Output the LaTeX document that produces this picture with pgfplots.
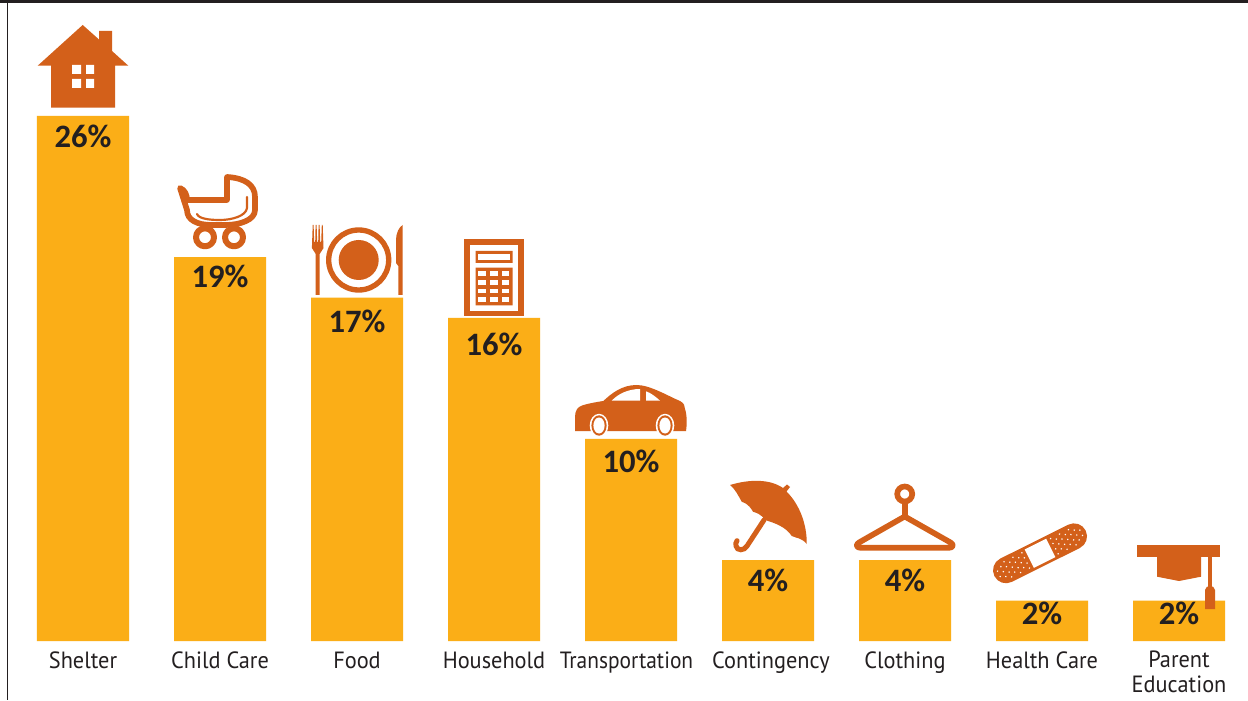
\documentclass[border=0pt]{standalone}
\usepackage{fontspec}
\setmainfont{Carlito}
\newfontfamily\catfont[FakeStretch=0.95]{PT Sans}
\usepackage{pgfplots}
\usepackage{pgfplotstable}
\pgfplotsset{compat=1.18}
\definecolor{barfill}{HTML}{FBAE17}
\definecolor{icon}{HTML}{D3601A}
\definecolor{ink}{HTML}{231F20}

% pos: category position, share: percent, drop: distance of the value's baseline below the bar top
\pgfplotstableread{
pos share drop
0 26 32.2
1 19 30.8
2 17 35.4
3 16 38.2
4 10 34.0
5 4 31.0
6 4 31.0
7 2 23.4
8 2 23.4
}\shares

\begin{document}
\begin{tikzpicture}
\path[use as bounding box,fill=white] (0,0) rectangle (748.8pt,420pt);
\begin{axis}[
  at={(0pt,35.4pt)}, anchor=south west,
  width=748.8pt, height=384.6pt, scale only axis,
  xmin=-0.60584, xmax=8.50365, ymin=0, ymax=31.733,
  axis line style={draw=none},
  ytick=\empty,
  xtick={0,...,8},
  xticklabels={Shelter,Child Care,Food,Household,\scalebox{0.96}[1]{Transportation}\kern5.4pt,\leavevmode\kern3.6pt Contingency,Clothing,Health Care,Parent\\Education},
  major tick length=0pt,
  xticklabel style={align=center,font=\catfont\fontsize{14.1pt}{14.8pt}\selectfont,text=ink,inner sep=0pt,anchor=north,
    execute at begin node={\rule{0pt}{10.4pt}},yshift=-5.7pt},
  clip=false,
  ybar, bar shift=0pt, bar width=55.2pt,
]
\addplot[fill=barfill,draw=none,
  visualization depends on={\thisrow{drop} \as \drop},
  point meta=y,
  nodes near coords={\pgfmathprintnumber[assume math mode=true,precision=0]{\pgfplotspointmeta}\%},
  nodes near coords style={anchor=base,inner sep=0pt,text=ink,font=\fontsize{19.6pt}{20pt}\selectfont\bfseries,yshift=-\drop*0.6pt},
] table[x=pos,y=share]{\shares};
\end{axis}

% Icons and frame, in a top-down coordinate system of 1248 by 700 units
\begin{scope}[shift={(0pt,420pt)},x=0.6pt,y=-0.6pt]
  % frame
  \fill[ink] (0,0) rectangle (1248,3);
  \fill[ink] (7,0) rectangle (8.4,700);

  % house
  \fill[icon] (82.7,25) -- (99,39.5) -- (99,31) -- (112,31) -- (112,51) -- (128.3,65.7) -- (115,65.7)
     -- (115,107.7) -- (51,107.7) -- (51,65.7) -- (37.7,65.7) -- cycle;
  \fill[white] (72,65) rectangle (81,74) (86,65) rectangle (94,74)
               (72,79) rectangle (81,88) (86,79) rectangle (94,88);

  % pram
  \begin{scope}[draw=icon,line cap=round,line join=round]
    \draw[line width=3.4pt] (180,188) .. controls (185,190) and (187,195) .. (187,200) -- (227,200) -- (227,177)
       .. controls (245,178) and (255,185) .. (255,197) -- (255,210)
       .. controls (255,220) and (240,225) .. (225,225) -- (212,225)
       .. controls (197,225) and (187,220) .. (187,210) -- cycle;
    \draw[line width=1.3pt] (247,197) -- (247,208) .. controls (246,216) and (232,220) .. (220,220)
       .. controls (210,220) and (199,219) .. (197,214);
    \draw[line width=3.6pt] (205,237.3) circle (9) (234,237.3) circle (9);
  \end{scope}

  % fork
  \fill[icon] (312.7,225) -- (313.6,225) -- (314.2,242) -- (315.2,242) -- (315.6,225) -- (316.6,225) -- (317.2,242) -- (318.2,242)
     -- (318.6,225) -- (319.6,225) -- (320.2,242) -- (321.2,242) -- (321.8,225) -- (322.7,225) -- (323.5,248) -- (319.7,254)
     -- (319.7,295) -- (315.7,295) -- (315.7,254) -- (311.9,248) -- cycle;
  % plate
  \draw[icon,line width=3.2pt] (358.7,260) circle (30);
  \fill[icon] (358.7,260) circle (20);
  % knife
  \fill[icon] (402.7,225) -- (402.7,295) -- (398.3,295) -- (398.3,266) -- (396,263) -- (396,240)
     .. controls (396,233) and (399,227) .. (402.7,225) -- cycle;

  % calculator
  \fill[icon] (464,239.3) rectangle (523.7,316.3);
  \fill[white] (469.7,245) rectangle (518,310.6);
  \fill[icon] (475.7,251) rectangle (512.7,263) (475.7,267.7) rectangle (512.7,305.3);
  \fill[white] (478.3,254) rectangle (510,260);
  \foreach \ya/\yb in {271/276,280/285,288.7/293,297.3/302}
    \foreach \xa/\xb in {478.3/485.7,490/497.7,502/509.3}
      \fill[white] (\xa,\ya) rectangle (\xb,\yb);

  % car
  \fill[icon] (575,431) -- (575,417) .. controls (575,410) and (578,407) .. (582,405.5)
     .. controls (590,403) and (597,402) .. (603.3,401)
     .. controls (612,393) and (622,385) .. (636.7,385)
     .. controls (650,385) and (668,396) .. (680,401)
     .. controls (684,403) and (685,406) .. (685,409) .. controls (687,414) and (687,425) .. (686,431) -- cycle;
  \fill[white] (611.7,400.7) .. controls (618,394) and (628,389) .. (640,389) -- (640,400.7) -- cycle;
  \fill[white] (646,391.3) .. controls (651,393) and (656,397) .. (660,400.7) -- (646,400.7) -- cycle;
  \foreach \cx in {599,665} {
    \fill[white] (\cx,425.5) ellipse (9.3 and 11.7);
    \fill[icon] (\cx,425.5) ellipse (7.6 and 10.2);
    \fill[white] (\cx,425.5) ellipse (5.6 and 8);
  }

  % umbrella
  \fill[icon] (730,485) .. controls (750,479) and (770,479) .. (783,488) -- (787,484.5) -- (790,487) -- (786.5,491.5)
     .. controls (800,505) and (807,525) .. (806.7,544)
     .. controls (802,538) and (796,538) .. (791.7,536)
     .. controls (786,527) and (775,523) .. (765,520)
     .. controls (760,513) and (756,513) .. (753,511.7)
     .. controls (748,503) and (744,503) .. (741.7,501.7)
     .. controls (738,495) and (735,489) .. (730,485) -- cycle;
  \draw[icon,line width=3pt,line cap=round] (764,520) -- (747,546)
     .. controls (744,551) and (737,551) .. (736,546) .. controls (735.5,544) and (736,542) .. (737,540.7);

  % hanger
  \draw[icon,line width=3.4pt] (904.7,494) circle (7.5);
  \draw[icon,line width=3.4pt] (904.7,502) -- (904.7,517);
  \draw[icon,line width=3.4pt,line join=round]
    (904.7,516.5) -- (859,542.5) .. controls (855,545) and (857,547.7) .. (860,547.7)
    -- (949.5,547.7) .. controls (952.5,547.7) and (954.5,545) .. (950.5,542.5) -- cycle;

  % bandage
  \begin{scope}[shift={(1040,553.3)},rotate=26.5]
    \draw[icon,line width=15.6pt,line cap=round] (-38,0) -- (38,0);
    \fill[white] (-12,-10.3) rectangle (12,10.3);
    \foreach \s in {-1,1}
      \foreach \u/\v in {16/-8.5,16/-3,16/3,16/8.5,21/-5.5,21/0,21/5.5,26/-8.5,26/-3,26/3,26/8.5,31/-5.5,31/0,31/5.5,36/-8.5,36/-3,36/3,36/8.5,41/-5.5,41/0,41/5.5,46/-3,46/3}
        \fill[white] (\s*\u,\v) circle (0.85);
  \end{scope}

  % mortarboard
  \fill[icon] (1137,545) rectangle (1220,557);
  \fill[icon] (1157,557) -- (1157,576.7) -- (1179,581) -- (1201,576.7) -- (1201,557) -- cycle;
  \fill[icon] (1208,557) rectangle (1212,587);
  \fill[icon] (1205,609) -- (1205,590) .. controls (1205,587) and (1208,586) .. (1210,586)
     .. controls (1212,586) and (1215,587) .. (1215,590) -- (1215,609) -- cycle;
\end{scope}
\end{tikzpicture}
\end{document}
